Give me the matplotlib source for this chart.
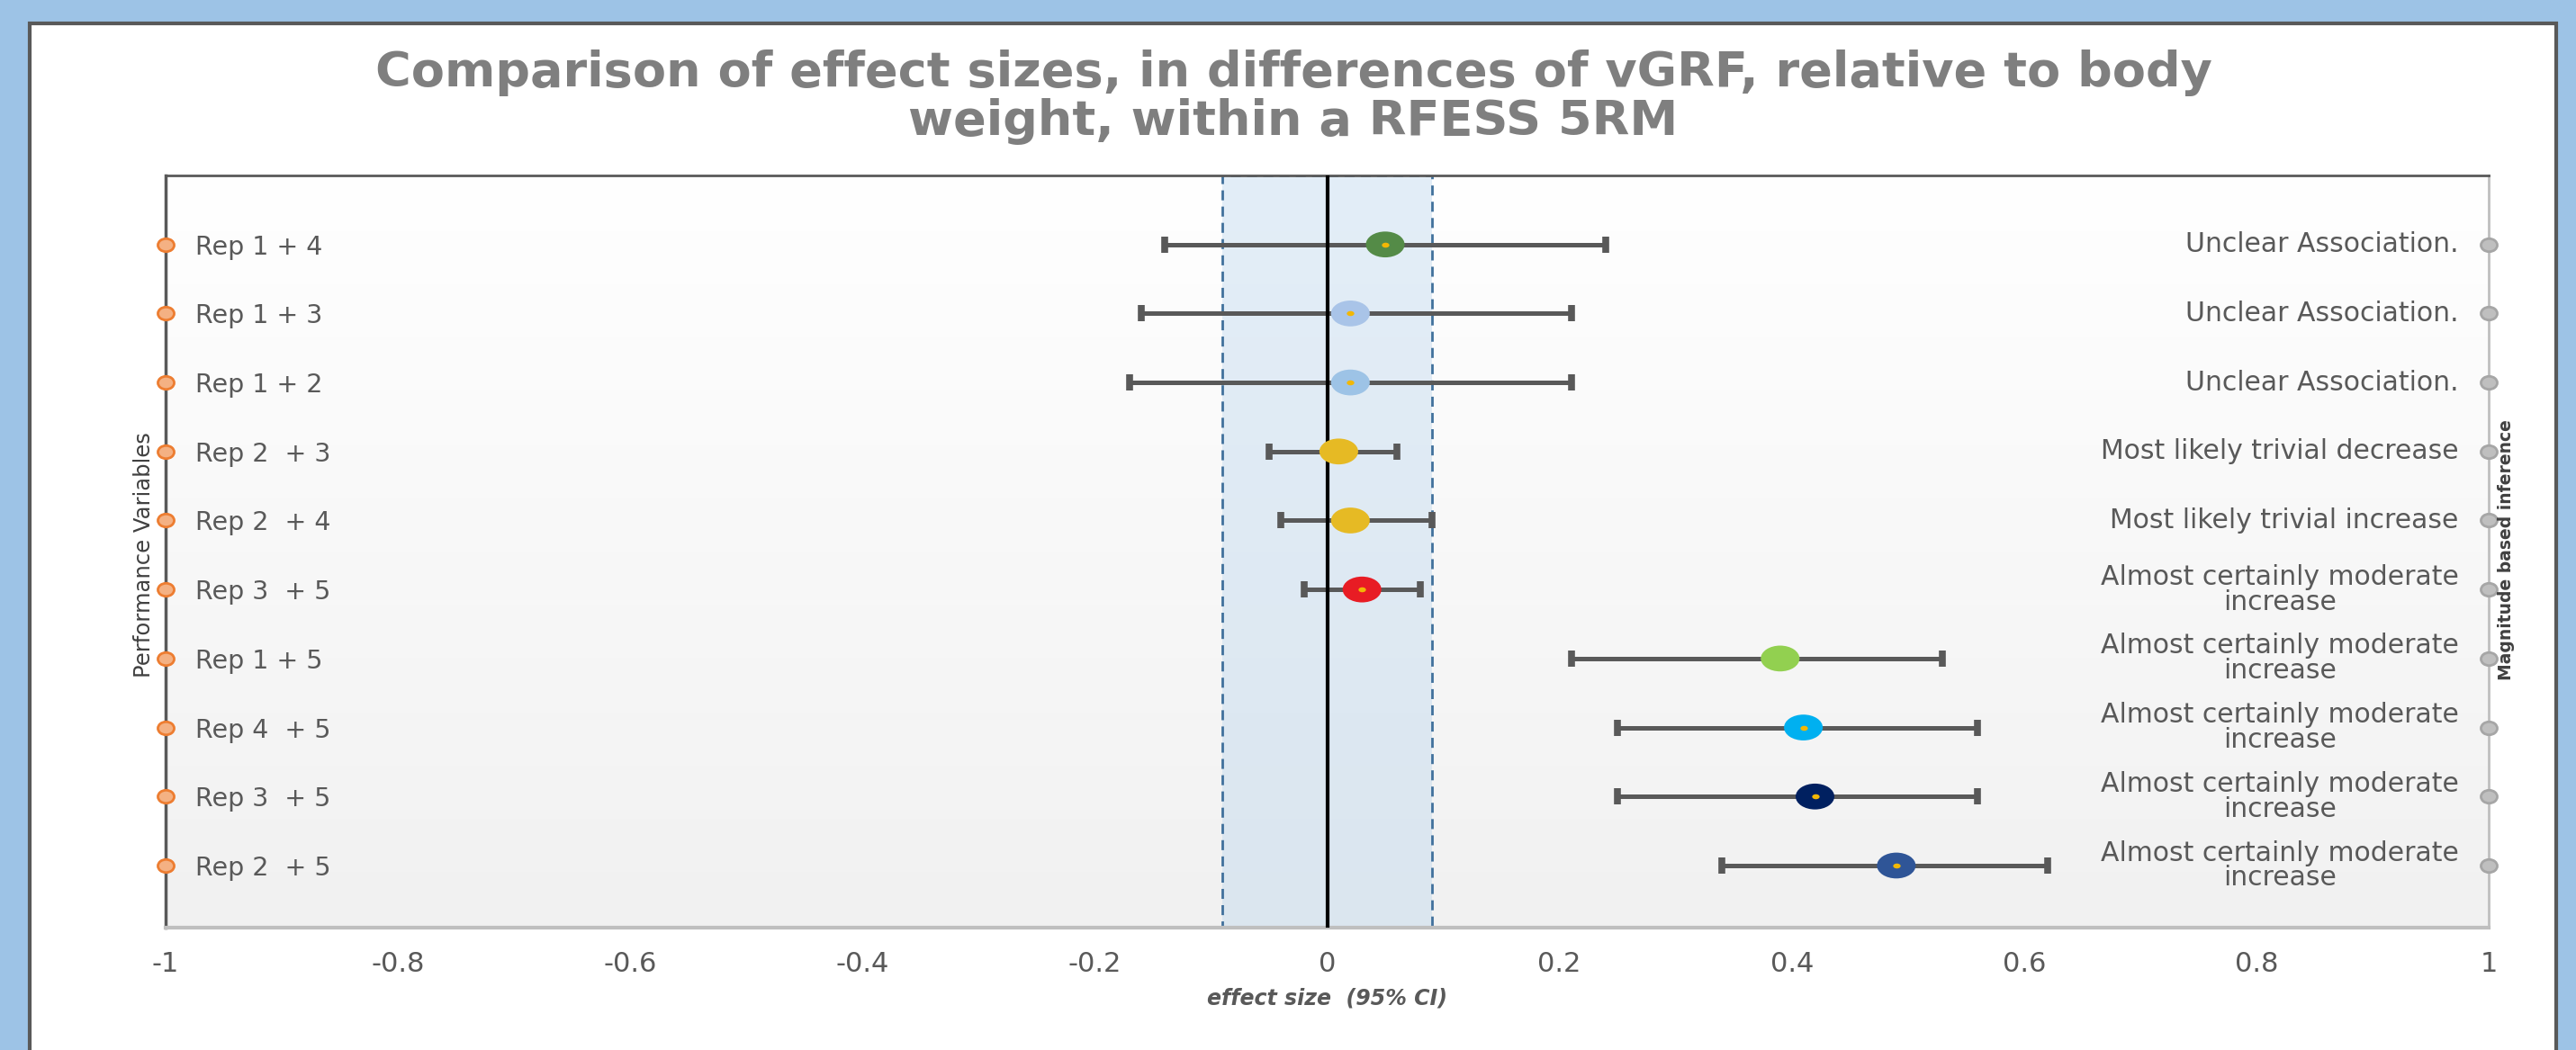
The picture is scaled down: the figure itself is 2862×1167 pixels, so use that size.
import numpy as np
import matplotlib
matplotlib.use("Agg")
import matplotlib.pyplot as plt
from matplotlib.path import Path
from matplotlib.transforms import Affine2D
from matplotlib.patches import Rectangle
from matplotlib.colors import LinearSegmentedColormap

plt.rcParams['font.family'] = ['DejaVu Sans']

# ---------------- data (top row first)
variables = ['Rep 1 + 4', 'Rep 1 + 3', 'Rep 1 + 2', 'Rep 2  + 3', 'Rep 2  + 4',
             'Rep 3  + 5', 'Rep 1 + 5', 'Rep 4  + 5', 'Rep 3  + 5', 'Rep 2  + 5']
inference = ['Unclear Association.', 'Unclear Association.', 'Unclear Association.',
             'Most likely trivial decrease', 'Most likely trivial increase',
             'Almost certainly moderate\nincrease', 'Almost certainly moderate\nincrease',
             'Almost certainly moderate\nincrease', 'Almost certainly moderate\nincrease',
             'Almost certainly moderate\nincrease']
effect = [0.05, 0.02, 0.02, 0.01, 0.02, 0.03, 0.39, 0.41, 0.42, 0.49]
ci_low = [-0.14, -0.16, -0.17, -0.05, -0.04, -0.02, 0.21, 0.25, 0.25, 0.34]
ci_high = [0.24, 0.21, 0.21, 0.06, 0.09, 0.08, 0.53, 0.56, 0.56, 0.62]
point_colors = ['#548B47', '#A9C4E8', '#9DC3E6', '#E6BA24', '#E6BA24',
                '#E81C24', '#92D050', '#00B0F0', '#002060', '#2F5597']
has_dot = [True, True, True, False, False, True, False, True, True, True]
trivial_band = [-0.09, 0.09]
xtick_values = [-1, -0.8, -0.6, -0.4, -0.2, 0, 0.2, 0.4, 0.6, 0.8, 1]
xtick_labels = ['-1', '-0.8', '-0.6', '-0.4', '-0.2', '0', '0.2', '0.4', '0.6', '0.8', '1']

n = len(variables)
ypos = np.arange(n, 0, -1)  # top row = n
eff = np.array(effect)
lo = np.array(ci_low)
hi = np.array(ci_high)

# ellipse marker (excel circles look stretched)
ell = Path.unit_circle().transformed(Affine2D().scale(1.5, 1.0))
small_ell = Path.unit_circle().transformed(Affine2D().scale(1.25, 1.0))

# ---------------- figure
fig = plt.figure(figsize=(28.62, 11.67), dpi=100)
fig.patch.set_facecolor('#9DC3E6')
fig.patches.append(Rectangle((33 / 2862, -0.1), (2840 - 33) / 2862, (1167 - 26) / 1167 + 0.1,
                             transform=fig.transFigure, facecolor='white',
                             edgecolor='#595959', lw=3, zorder=-5))

ax = fig.add_axes([184 / 2862, 1 - 1031 / 1167, (2765 - 184) / 2862, (1031 - 195) / 1167])
ax.set_facecolor('none')

# background gradient
bg = LinearSegmentedColormap.from_list('bg', ['#FFFFFF', '#F1F1F1'])
ax.imshow(np.linspace(0, 1, 256).reshape(-1, 1), cmap=bg, extent=[0, 1, 0, 1],
          transform=ax.transAxes, aspect='auto', zorder=0)

# trivial band
ax.axvspan(trivial_band[0], trivial_band[1], facecolor='#BDD7EE', alpha=0.42,
           edgecolor='none', zorder=1)
ax.axvspan(trivial_band[0], trivial_band[1], fill=False, edgecolor='#41719C',
           ls=(0, (4, 2.5)), lw=2, zorder=1.1)

# error bars
ax.errorbar(eff, ypos, xerr=[eff - lo, hi - eff], fmt='none', ecolor='#595959',
            elinewidth=3.6, capsize=6.5, capthick=5.5, zorder=2)
ax.axvline(0, color='black', lw=3, zorder=3)

# points
ax.scatter(eff, ypos, s=31 ** 2, c=point_colors, marker=ell, linewidths=0, zorder=4)
dots = np.array(has_dot)
ax.scatter(eff[dots], ypos[dots], s=6 ** 2, c='#F2B705', marker=ell, linewidths=0, zorder=5)

# axis markers
ax.plot(np.full(n, -1.0), ypos, ls='none', marker=small_ell, ms=13,
        mfc='#F4B183', mec='#ED7D31', mew=2, clip_on=False, zorder=6)
ax.plot(np.full(n, 1.0), ypos, ls='none', marker=small_ell, ms=13,
        mfc='#BFBFBF', mec='#A6A6A6', mew=2, clip_on=False, zorder=6)

ax.set_xlim(-1, 1)
ax.set_ylim(0.1, 11)

# x axis
ax.set_xticks(xtick_values, xtick_labels)
ax.tick_params(axis='x', length=0, pad=19, labelsize=22, labelcolor='#595959')
ax.set_xlabel('effect size  (95% CI)', fontsize=17, fontweight='bold', fontstyle='italic',
              color='#595959')
ax.xaxis.set_label_coords(0.5, -0.08)

# left labels inside plot
ax.set_yticks(ypos, variables)
ax.tick_params(axis='y', length=0, pad=-24, labelsize=20.5, labelcolor='#595959')
for t in ax.get_yticklabels():
    t.set_horizontalalignment('left')
ax.set_ylabel('Performance Variables', fontsize=17.5, color='#404040')
ax.yaxis.set_label_coords(-0.0045, 0.496)

# right labels
tw = ax.twinx()
tw.set_ylim(ax.get_ylim())
tw.set_yticks(ypos, inference)
tw.tick_params(axis='y', length=0, pad=-24, labelsize=21.5, labelcolor='#595959')
for t in tw.get_yticklabels():
    t.set_horizontalalignment('right')
    t.set_verticalalignment('center')
    t.set_multialignment('center')
    t.set_linespacing(0.95)
tw.set_ylabel('Magnitude based inference', fontsize=13.5, fontweight='bold', color='#404040')
tw.yaxis.set_label_coords(1.004, 0.502)
for s in tw.spines.values():
    s.set_visible(False)

# spines
ax.spines['top'].set_color('#595959')
ax.spines['top'].set_linewidth(2)
ax.spines['left'].set_color('#595959')
ax.spines['left'].set_linewidth(2.5)
ax.spines['bottom'].set_color('#BFBFBF')
ax.spines['bottom'].set_linewidth(3)
ax.spines['right'].set_color('#BFBFBF')
ax.spines['right'].set_linewidth(2)

fig.suptitle('Comparison of effect sizes, in differences of vGRF, relative to body\nweight, within a RFESS 5RM',
             x=1437 / 2862, y=1 - 108 / 1167, va='center', fontsize=39, fontweight='bold',
             color='#7F7F7F', linespacing=1.05)

fig.savefig('out.png', dpi=100)
